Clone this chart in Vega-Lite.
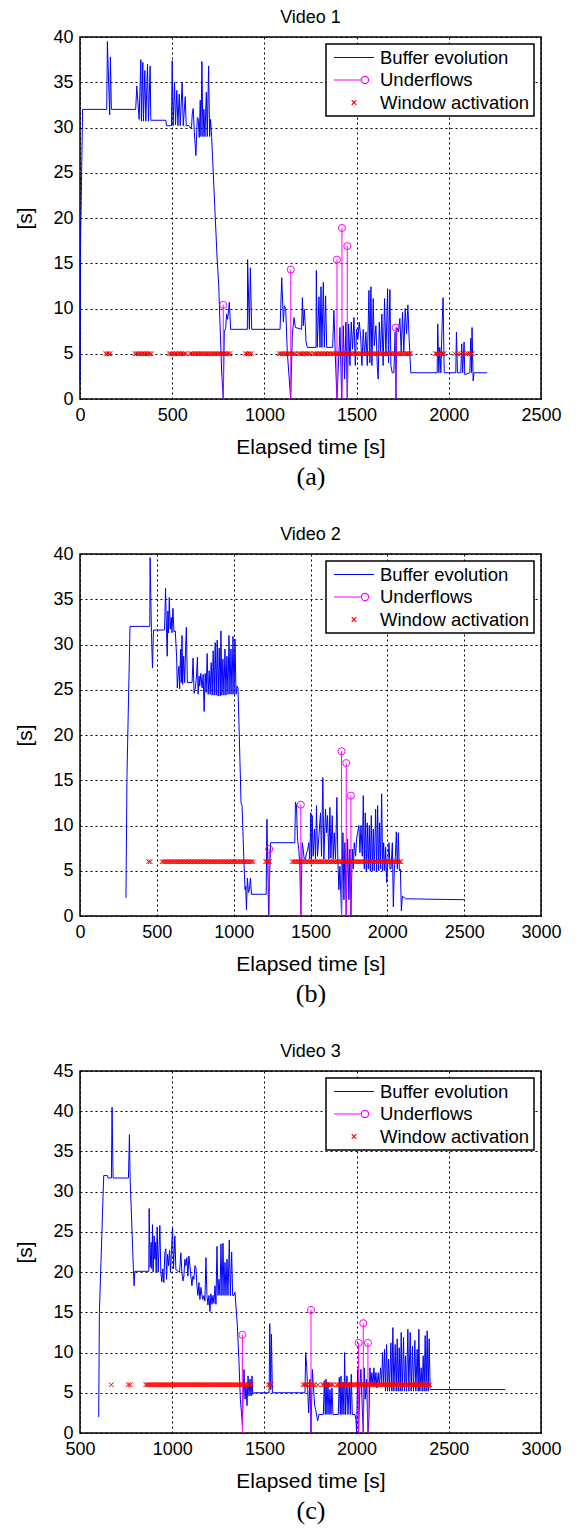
{
"$schema":"https://vega.github.io/schema/vega-lite/v6.json",
"padding":{"left":14,"top":8,"right":5,"bottom":5},
"background":"white",
"config":{
 "font":"Liberation Sans",
 "view":{"stroke":"black","strokeWidth":1.5},
 "axis":{"labelFontSize":18,"labelColor":"black","labelFont":"Liberation Sans","titleFont":"Liberation Sans","titleFontSize":21,"titleFontWeight":"normal","titleColor":"black","gridColor":"black","gridDash":[2,3],"gridWidth":1,"gridOpacity":1,"ticks":false,"domain":false,"labelPadding":7,"labelFlush":false,"labelOverlap":false,"labelBound":false,"format":"d"},
 "axisX":{"titlePadding":12},
 "axisY":{"titlePadding":17},
 "title":{"font":"Liberation Sans","fontSize":18,"fontWeight":"normal","color":"black","offset":1,"frame":"group"},
 "legend":{"orient":"top-right","offset":7,"strokeColor":"black","strokeWidth":1.5,"fillColor":"white","padding":4,"symbolSize":1600,"symbolStrokeWidth":1.2,"symbolOffset":3,"labelOffset":5,"labelFont":"Liberation Sans","labelFontSize":18.5,"labelColor":"black","labelLimit":0,"clipHeight":19,"rowPadding":3.5}
},
"datasets":{
"b1":[{"t":0,"v":2},{"t":3,"v":17},{"t":14,"v":32},{"t":145,"v":32},{"t":148.5,"v":39.5},{"t":161,"v":31.4},{"t":165,"v":37.8},{"t":170,"v":32},{"t":302,"v":32},{"t":308,"v":34.6},{"t":320.6,"v":30.9},{"t":330,"v":37.5},{"t":333,"v":30.7},{"t":340.6,"v":37.2},{"t":344,"v":30.7},{"t":351.5,"v":36.3},{"t":357,"v":30.7},{"t":366,"v":37},{"t":371.4,"v":30.7},{"t":380.4,"v":36.8},{"t":384,"v":30.8},{"t":465.6,"v":30.8},{"t":469,"v":30.2},{"t":496,"v":30.2},{"t":500,"v":37.4},{"t":505,"v":30.2},{"t":512.7,"v":35},{"t":518,"v":30.3},{"t":525,"v":34.1},{"t":531,"v":30.2},{"t":538,"v":33.7},{"t":543.5,"v":30.2},{"t":554,"v":35},{"t":560,"v":30.2},{"t":570.7,"v":33.4},{"t":576,"v":30.2},{"t":590.6,"v":30.2},{"t":596,"v":30},{"t":605,"v":30},{"t":608.7,"v":31.5},{"t":614,"v":32.1},{"t":619.6,"v":29.6},{"t":628.6,"v":26.9},{"t":636,"v":31.1},{"t":641,"v":31},{"t":646.7,"v":28.9},{"t":652,"v":33},{"t":656,"v":29},{"t":661,"v":37.3},{"t":666.7,"v":29},{"t":672,"v":32},{"t":677.5,"v":29},{"t":685,"v":33.9},{"t":690,"v":29},{"t":697.5,"v":36.8},{"t":703,"v":29},{"t":708,"v":30.9},{"t":714,"v":28.9},{"t":743,"v":15.8},{"t":752,"v":12.7},{"t":768,"v":3.1},{"t":777,"v":0},{"t":782.6,"v":7.4},{"t":790,"v":7.8},{"t":795,"v":9.4},{"t":800.7,"v":8.8},{"t":810,"v":10.7},{"t":817,"v":7.7},{"t":907.6,"v":7.7},{"t":909,"v":15.4},{"t":918.5,"v":7.7},{"t":924,"v":14.5},{"t":931,"v":7.7},{"t":1085,"v":7.7},{"t":1094,"v":13.4},{"t":1103,"v":8.5},{"t":1108,"v":10.3},{"t":1115.5,"v":10},{"t":1124,"v":5.2},{"t":1142.6,"v":0},{"t":1151.6,"v":7.2},{"t":1160.7,"v":9},{"t":1168,"v":7.9},{"t":1202,"v":7.7},{"t":1206,"v":11.2},{"t":1211,"v":8.1},{"t":1216,"v":9.9},{"t":1222,"v":8.1},{"t":1225.6,"v":6.3},{"t":1233,"v":5.7},{"t":1280,"v":5.7},{"t":1281.6,"v":14.2},{"t":1287,"v":5.7},{"t":1296,"v":11.3},{"t":1301.4,"v":5.7},{"t":1307,"v":12.4},{"t":1312,"v":5.7},{"t":1319.5,"v":12.9},{"t":1325,"v":5.7},{"t":1332,"v":11.4},{"t":1337.6,"v":5.7},{"t":1370,"v":5.7},{"t":1377,"v":9.8},{"t":1384.5,"v":4.8},{"t":1393.5,"v":0},{"t":1410,"v":7.9},{"t":1419,"v":0},{"t":1428,"v":8.1},{"t":1435,"v":2.2},{"t":1442,"v":8.5},{"t":1449.5,"v":0},{"t":1456.7,"v":8.3},{"t":1464,"v":3.7},{"t":1471,"v":8.5},{"t":1478,"v":5.5},{"t":1485.6,"v":9},{"t":1493,"v":3.7},{"t":1500,"v":7.7},{"t":1507,"v":6.6},{"t":1514,"v":8.5},{"t":1521.7,"v":7},{"t":1529,"v":3.7},{"t":1536,"v":7.7},{"t":1543,"v":4.8},{"t":1550.5,"v":7.4},{"t":1558,"v":3.7},{"t":1567,"v":12},{"t":1572,"v":4},{"t":1577.6,"v":12.4},{"t":1583,"v":3.7},{"t":1590,"v":11.1},{"t":1595.7,"v":5.9},{"t":1604.7,"v":8.1},{"t":1612,"v":3.7},{"t":1617,"v":2.2},{"t":1623,"v":8.5},{"t":1630,"v":5.2},{"t":1637,"v":9.4},{"t":1644,"v":3.7},{"t":1651.6,"v":11.1},{"t":1659,"v":4.8},{"t":1668,"v":12.2},{"t":1673,"v":4},{"t":1680.5,"v":12.1},{"t":1686,"v":3.7},{"t":1693,"v":2.9},{"t":1702,"v":2.9},{"t":1709,"v":7.4},{"t":1713,"v":0},{"t":1718,"v":7.9},{"t":1727,"v":7.4},{"t":1734.6,"v":8.9},{"t":1742,"v":5.2},{"t":1749,"v":9.6},{"t":1756,"v":5.2},{"t":1763.5,"v":10},{"t":1771,"v":7.2},{"t":1778,"v":10.4},{"t":1785,"v":6.6},{"t":1794,"v":2.9},{"t":1937,"v":2.9},{"t":1940,"v":8.3},{"t":1946,"v":2.9},{"t":1951,"v":5.7},{"t":1957,"v":2.9},{"t":1964,"v":8.5},{"t":1969,"v":11.2},{"t":1975,"v":2.9},{"t":2038,"v":2.9},{"t":2041.5,"v":7.4},{"t":2047,"v":2.9},{"t":2065,"v":2.9},{"t":2070,"v":6.1},{"t":2075,"v":2.9},{"t":2083,"v":6.3},{"t":2086.6,"v":2.7},{"t":2114,"v":2.9},{"t":2119,"v":6.7},{"t":2123,"v":2.9},{"t":2126,"v":7.9},{"t":2132,"v":2},{"t":2137,"v":2.9},{"t":2208,"v":2.9}],
"u1":[{"t":777,"v":10.4},{"t":1143,"v":14.3},{"t":1393.5,"v":15.4},{"t":1420.6,"v":18.9},{"t":1449.5,"v":16.9},{"t":1713,"v":7.9}],
"w1":[{"t":140,"v":5},{"t":148,"v":5},{"t":156,"v":5},{"t":163,"v":5},{"t":298,"v":5},{"t":306,"v":5},{"t":314,"v":5},{"t":322,"v":5},{"t":330,"v":5},{"t":338,"v":5},{"t":346,"v":5},{"t":354,"v":5},{"t":362,"v":5},{"t":370,"v":5},{"t":378,"v":5},{"t":385,"v":5},{"t":485,"v":5},{"t":493,"v":5},{"t":501,"v":5},{"t":509,"v":5},{"t":517,"v":5},{"t":525,"v":5},{"t":533,"v":5},{"t":541,"v":5},{"t":549,"v":5},{"t":557,"v":5},{"t":565,"v":5},{"t":573,"v":5},{"t":598,"v":5},{"t":606,"v":5},{"t":614,"v":5},{"t":622,"v":5},{"t":630,"v":5},{"t":638,"v":5},{"t":646,"v":5},{"t":654,"v":5},{"t":662,"v":5},{"t":670,"v":5},{"t":678,"v":5},{"t":686,"v":5},{"t":694,"v":5},{"t":702,"v":5},{"t":710,"v":5},{"t":718,"v":5},{"t":726,"v":5},{"t":734,"v":5},{"t":742,"v":5},{"t":750,"v":5},{"t":758,"v":5},{"t":766,"v":5},{"t":774,"v":5},{"t":782,"v":5},{"t":790,"v":5},{"t":798,"v":5},{"t":806,"v":5},{"t":813,"v":5},{"t":897,"v":5},{"t":905,"v":5},{"t":913,"v":5},{"t":921,"v":5},{"t":929,"v":5},{"t":1080,"v":5},{"t":1088,"v":5},{"t":1096,"v":5},{"t":1104,"v":5},{"t":1112,"v":5},{"t":1120,"v":5},{"t":1128,"v":5},{"t":1136,"v":5},{"t":1144,"v":5},{"t":1152,"v":5},{"t":1160,"v":5},{"t":1167,"v":5},{"t":1185,"v":5},{"t":1193,"v":5},{"t":1201,"v":5},{"t":1209,"v":5},{"t":1217,"v":5},{"t":1225,"v":5},{"t":1233,"v":5},{"t":1241,"v":5},{"t":1248,"v":5},{"t":1266,"v":5},{"t":1274,"v":5},{"t":1282,"v":5},{"t":1290,"v":5},{"t":1298,"v":5},{"t":1306,"v":5},{"t":1314,"v":5},{"t":1322,"v":5},{"t":1330,"v":5},{"t":1338,"v":5},{"t":1346,"v":5},{"t":1354,"v":5},{"t":1362,"v":5},{"t":1370,"v":5},{"t":1378,"v":5},{"t":1386,"v":5},{"t":1394,"v":5},{"t":1402,"v":5},{"t":1410,"v":5},{"t":1418,"v":5},{"t":1426,"v":5},{"t":1434,"v":5},{"t":1442,"v":5},{"t":1450,"v":5},{"t":1458,"v":5},{"t":1466,"v":5},{"t":1474,"v":5},{"t":1482,"v":5},{"t":1490,"v":5},{"t":1498,"v":5},{"t":1506,"v":5},{"t":1514,"v":5},{"t":1522,"v":5},{"t":1530,"v":5},{"t":1538,"v":5},{"t":1546,"v":5},{"t":1554,"v":5},{"t":1562,"v":5},{"t":1570,"v":5},{"t":1578,"v":5},{"t":1586,"v":5},{"t":1594,"v":5},{"t":1602,"v":5},{"t":1610,"v":5},{"t":1618,"v":5},{"t":1626,"v":5},{"t":1634,"v":5},{"t":1642,"v":5},{"t":1650,"v":5},{"t":1658,"v":5},{"t":1666,"v":5},{"t":1674,"v":5},{"t":1682,"v":5},{"t":1690,"v":5},{"t":1698,"v":5},{"t":1706,"v":5},{"t":1714,"v":5},{"t":1722,"v":5},{"t":1730,"v":5},{"t":1738,"v":5},{"t":1746,"v":5},{"t":1754,"v":5},{"t":1762,"v":5},{"t":1770,"v":5},{"t":1778,"v":5},{"t":1786,"v":5},{"t":1792,"v":5},{"t":1927,"v":5},{"t":1935,"v":5},{"t":1943,"v":5},{"t":1951,"v":5},{"t":1959,"v":5},{"t":1967,"v":5},{"t":1975,"v":5},{"t":2032,"v":5},{"t":2048,"v":5},{"t":2062,"v":5},{"t":2078,"v":5},{"t":2092,"v":5},{"t":2104,"v":5},{"t":2113,"v":5},{"t":2121,"v":5},{"t":2128,"v":5}],
"b2":[{"t":299,"v":2},{"t":305.7,"v":15.5},{"t":325.3,"v":32},{"t":454.1,"v":32},{"t":456.3,"v":39.6},{"t":465,"v":31.3},{"t":471.6,"v":27.4},{"t":478.2,"v":31.6},{"t":550.2,"v":31.6},{"t":556.8,"v":36.2},{"t":563.3,"v":31.3},{"t":567.7,"v":28.7},{"t":572,"v":33.7},{"t":576.4,"v":31.3},{"t":580.8,"v":35.2},{"t":587.3,"v":31.7},{"t":593.9,"v":33},{"t":598.3,"v":31.3},{"t":604.8,"v":34},{"t":611.4,"v":31.4},{"t":620.1,"v":31.5},{"t":628.8,"v":28.6},{"t":633.2,"v":25.2},{"t":637.6,"v":26.4},{"t":644.1,"v":27.6},{"t":648.5,"v":25.1},{"t":655,"v":29.5},{"t":659.4,"v":25.8},{"t":663.8,"v":31},{"t":668.1,"v":25.6},{"t":674.7,"v":28.7},{"t":681.2,"v":25.8},{"t":687.8,"v":29.9},{"t":692.1,"v":31.9},{"t":698.7,"v":25.8},{"t":729.3,"v":25.8},{"t":735.8,"v":28.5},{"t":742.4,"v":24.6},{"t":751.1,"v":25.2},{"t":757.6,"v":26.4},{"t":764.2,"v":28.6},{"t":768.6,"v":24.5},{"t":775.1,"v":26.5},{"t":779.5,"v":25.4},{"t":786,"v":26.8},{"t":794.8,"v":25.2},{"t":801.3,"v":26.7},{"t":807.9,"v":22.6},{"t":814.4,"v":26.8},{"t":821,"v":24.7},{"t":827.5,"v":29},{"t":834.1,"v":24.5},{"t":840.6,"v":27.1},{"t":847.2,"v":24.5},{"t":853.7,"v":28},{"t":860.3,"v":24.4},{"t":866.8,"v":29.3},{"t":873.4,"v":24.4},{"t":879.9,"v":30.2},{"t":886.5,"v":24.4},{"t":893,"v":30.5},{"t":899.6,"v":24.3},{"t":906.1,"v":29.6},{"t":912.7,"v":24.3},{"t":917,"v":31.5},{"t":923.6,"v":24.4},{"t":930.1,"v":28.4},{"t":936.7,"v":24.4},{"t":943.2,"v":29.5},{"t":949.8,"v":24.4},{"t":956.3,"v":28.7},{"t":962.9,"v":24.5},{"t":969.4,"v":31},{"t":976,"v":24.5},{"t":982.5,"v":29.5},{"t":989.1,"v":24.5},{"t":995.6,"v":30.9},{"t":1002.2,"v":24.5},{"t":1008.7,"v":30.6},{"t":1015.3,"v":24.5},{"t":1021.8,"v":25.4},{"t":1028.4,"v":25.2},{"t":1048,"v":12.5},{"t":1054.6,"v":12.2},{"t":1065.5,"v":6.6},{"t":1074.2,"v":2.9},{"t":1078.6,"v":3.3},{"t":1083,"v":0.7},{"t":1089.5,"v":4.2},{"t":1096.1,"v":2.6},{"t":1102.6,"v":2.9},{"t":1109.2,"v":4.2},{"t":1115.7,"v":2.4},{"t":1211.8,"v":2.4},{"t":1216.2,"v":10.7},{"t":1222.7,"v":5.5},{"t":1227.1,"v":0},{"t":1240.2,"v":8.1},{"t":1397.8,"v":8.1},{"t":1402.2,"v":12.6},{"t":1408.7,"v":12.2},{"t":1415.2,"v":8.5},{"t":1423.9,"v":7.4},{"t":1430.4,"v":5.5},{"t":1437,"v":0},{"t":1445.7,"v":8.1},{"t":1452.2,"v":7.4},{"t":1458.7,"v":6.3},{"t":1467.4,"v":6.3},{"t":1473.9,"v":7},{"t":1480.4,"v":7.2},{"t":1489.1,"v":8.1},{"t":1495.7,"v":6.3},{"t":1502.2,"v":11.4},{"t":1506.5,"v":6.3},{"t":1510.9,"v":11.1},{"t":1517.4,"v":6.6},{"t":1526.1,"v":9.6},{"t":1532.6,"v":6.3},{"t":1539.1,"v":12.2},{"t":1545.7,"v":6.6},{"t":1554.3,"v":8.8},{"t":1565.2,"v":11.4},{"t":1571.7,"v":6.6},{"t":1580.4,"v":15.3},{"t":1587,"v":6.3},{"t":1597.8,"v":11.8},{"t":1604.3,"v":9.2},{"t":1610.9,"v":11.1},{"t":1619.6,"v":6.3},{"t":1626.1,"v":12},{"t":1632.6,"v":6.4},{"t":1641.3,"v":11.1},{"t":1647.8,"v":6.3},{"t":1654.3,"v":9.2},{"t":1663,"v":6.3},{"t":1671.7,"v":13.1},{"t":1678.3,"v":6.1},{"t":1684.8,"v":2.9},{"t":1691.3,"v":5.5},{"t":1702.2,"v":0},{"t":1710.9,"v":9.2},{"t":1717.4,"v":1.8},{"t":1723.9,"v":8.1},{"t":1732.6,"v":0},{"t":1741.3,"v":8.5},{"t":1750,"v":1.8},{"t":1756.5,"v":7.4},{"t":1763,"v":0},{"t":1771.7,"v":7.4},{"t":1778.3,"v":5.2},{"t":1784.8,"v":8.1},{"t":1793.5,"v":6.6},{"t":1800,"v":8.5},{"t":1806.5,"v":9.2},{"t":1815.2,"v":10},{"t":1821.7,"v":7},{"t":1828.3,"v":10},{"t":1837,"v":6.6},{"t":1843.5,"v":13.3},{"t":1850,"v":5.2},{"t":1856.5,"v":11.4},{"t":1863,"v":5},{"t":1869.6,"v":10.3},{"t":1876.1,"v":5.2},{"t":1882.6,"v":10},{"t":1889.1,"v":5},{"t":1895.7,"v":11.1},{"t":1902.2,"v":5},{"t":1908.7,"v":9.6},{"t":1915.2,"v":5},{"t":1923.9,"v":11.8},{"t":1930.4,"v":5},{"t":1937,"v":12.2},{"t":1943.5,"v":5},{"t":1950,"v":10.3},{"t":1956.5,"v":5.2},{"t":1963,"v":13.5},{"t":1969.6,"v":5},{"t":1976.1,"v":8.1},{"t":1982.6,"v":5},{"t":1989.1,"v":7.6},{"t":1995.7,"v":3.7},{"t":2002.2,"v":5.5},{"t":2010.9,"v":8.1},{"t":2017.4,"v":5.2},{"t":2023.9,"v":5.2},{"t":2032.6,"v":8.1},{"t":2039.1,"v":1},{"t":2045.7,"v":5.2},{"t":2052.2,"v":6.6},{"t":2058.7,"v":9.3},{"t":2065.2,"v":5.2},{"t":2071.7,"v":9.2},{"t":2078.3,"v":5},{"t":2084.8,"v":5.2},{"t":2091.3,"v":0.55},{"t":2097.8,"v":2.2},{"t":2119.6,"v":1.9},{"t":2502,"v":1.8}],
"u2":[{"t":1231,"v":7.4},{"t":1437,"v":12.3},{"t":1702.2,"v":18.2},{"t":1732.6,"v":16.9},{"t":1763,"v":13.3}],
"w2":[{"t":447,"v":6},{"t":457,"v":6},{"t":535,"v":6},{"t":545,"v":6},{"t":555,"v":6},{"t":565,"v":6},{"t":575,"v":6},{"t":585,"v":6},{"t":595,"v":6},{"t":605,"v":6},{"t":615,"v":6},{"t":625,"v":6},{"t":635,"v":6},{"t":645,"v":6},{"t":655,"v":6},{"t":665,"v":6},{"t":675,"v":6},{"t":685,"v":6},{"t":695,"v":6},{"t":705,"v":6},{"t":715,"v":6},{"t":725,"v":6},{"t":735,"v":6},{"t":745,"v":6},{"t":755,"v":6},{"t":765,"v":6},{"t":775,"v":6},{"t":785,"v":6},{"t":795,"v":6},{"t":805,"v":6},{"t":815,"v":6},{"t":825,"v":6},{"t":835,"v":6},{"t":845,"v":6},{"t":855,"v":6},{"t":865,"v":6},{"t":875,"v":6},{"t":885,"v":6},{"t":895,"v":6},{"t":905,"v":6},{"t":915,"v":6},{"t":925,"v":6},{"t":935,"v":6},{"t":945,"v":6},{"t":955,"v":6},{"t":965,"v":6},{"t":975,"v":6},{"t":985,"v":6},{"t":995,"v":6},{"t":1005,"v":6},{"t":1015,"v":6},{"t":1025,"v":6},{"t":1035,"v":6},{"t":1045,"v":6},{"t":1055,"v":6},{"t":1065,"v":6},{"t":1075,"v":6},{"t":1085,"v":6},{"t":1095,"v":6},{"t":1105,"v":6},{"t":1115,"v":6},{"t":1125,"v":6},{"t":1208,"v":6},{"t":1216,"v":6},{"t":1224,"v":6},{"t":1232,"v":6},{"t":1382,"v":6},{"t":1392,"v":6},{"t":1402,"v":6},{"t":1412,"v":6},{"t":1422,"v":6},{"t":1432,"v":6},{"t":1442,"v":6},{"t":1452,"v":6},{"t":1462,"v":6},{"t":1472,"v":6},{"t":1482,"v":6},{"t":1492,"v":6},{"t":1502,"v":6},{"t":1512,"v":6},{"t":1522,"v":6},{"t":1532,"v":6},{"t":1542,"v":6},{"t":1552,"v":6},{"t":1562,"v":6},{"t":1572,"v":6},{"t":1582,"v":6},{"t":1592,"v":6},{"t":1602,"v":6},{"t":1612,"v":6},{"t":1622,"v":6},{"t":1632,"v":6},{"t":1642,"v":6},{"t":1652,"v":6},{"t":1662,"v":6},{"t":1672,"v":6},{"t":1682,"v":6},{"t":1692,"v":6},{"t":1702,"v":6},{"t":1712,"v":6},{"t":1722,"v":6},{"t":1732,"v":6},{"t":1742,"v":6},{"t":1752,"v":6},{"t":1762,"v":6},{"t":1772,"v":6},{"t":1782,"v":6},{"t":1792,"v":6},{"t":1802,"v":6},{"t":1812,"v":6},{"t":1822,"v":6},{"t":1832,"v":6},{"t":1842,"v":6},{"t":1852,"v":6},{"t":1862,"v":6},{"t":1872,"v":6},{"t":1882,"v":6},{"t":1892,"v":6},{"t":1902,"v":6},{"t":1912,"v":6},{"t":1922,"v":6},{"t":1932,"v":6},{"t":1942,"v":6},{"t":1952,"v":6},{"t":1962,"v":6},{"t":1972,"v":6},{"t":1982,"v":6},{"t":1992,"v":6},{"t":2002,"v":6},{"t":2012,"v":6},{"t":2022,"v":6},{"t":2032,"v":6},{"t":2042,"v":6},{"t":2052,"v":6},{"t":2062,"v":6},{"t":2072,"v":6},{"t":2082,"v":6},{"t":2088,"v":6}],
"b3":[{"t":601.4,"v":2},{"t":605.1,"v":15},{"t":628.6,"v":32},{"t":648.5,"v":32},{"t":652.2,"v":31.7},{"t":670.3,"v":31.7},{"t":673.9,"v":40.5},{"t":679.3,"v":31.7},{"t":762.7,"v":31.7},{"t":768.1,"v":37.1},{"t":771.7,"v":31.7},{"t":789.9,"v":20.2},{"t":793.4,"v":18.3},{"t":797.1,"v":20.1},{"t":873.2,"v":20.1},{"t":875,"v":27.9},{"t":880.4,"v":20.6},{"t":885.9,"v":23.7},{"t":889.5,"v":20.4},{"t":893.1,"v":25.9},{"t":896.7,"v":20},{"t":902.2,"v":24.5},{"t":905.8,"v":21.6},{"t":909.4,"v":23.7},{"t":913,"v":20},{"t":918.5,"v":25.6},{"t":923.9,"v":20},{"t":933,"v":25.8},{"t":938.4,"v":20},{"t":943.8,"v":18.8},{"t":949.3,"v":20.4},{"t":954.7,"v":18.7},{"t":960.1,"v":22.4},{"t":965.6,"v":22.9},{"t":969.2,"v":19.1},{"t":974.6,"v":22.2},{"t":980.1,"v":20.8},{"t":985.5,"v":22.7},{"t":990.9,"v":20},{"t":996.4,"v":22.9},{"t":1001.8,"v":25.6},{"t":1007.2,"v":20.4},{"t":1014.5,"v":24.5},{"t":1019.9,"v":20.3},{"t":1039.9,"v":20},{"t":1047.1,"v":22.4},{"t":1052.5,"v":20},{"t":1058,"v":18.9},{"t":1063.4,"v":19.5},{"t":1068.8,"v":21.6},{"t":1074.3,"v":20.8},{"t":1079.7,"v":21.8},{"t":1085.1,"v":19.5},{"t":1090.6,"v":22},{"t":1096,"v":20.8},{"t":1101.4,"v":19.5},{"t":1106.9,"v":18.3},{"t":1112.3,"v":19.5},{"t":1117.7,"v":19.1},{"t":1123.2,"v":20.8},{"t":1128.6,"v":20.6},{"t":1134.1,"v":18.3},{"t":1139.5,"v":17.1},{"t":1144.9,"v":18.7},{"t":1150.4,"v":16.6},{"t":1155.8,"v":18.1},{"t":1161.2,"v":17.1},{"t":1166.7,"v":16.6},{"t":1172.1,"v":17.1},{"t":1177.5,"v":16.4},{"t":1183,"v":21.8},{"t":1188.4,"v":17.1},{"t":1193.8,"v":15.9},{"t":1199.3,"v":17.1},{"t":1204.7,"v":15.1},{"t":1210.1,"v":17.3},{"t":1215.6,"v":16},{"t":1221,"v":17.1},{"t":1226.4,"v":16.1},{"t":1231.9,"v":18.3},{"t":1237.3,"v":16},{"t":1242.7,"v":23.2},{"t":1248.2,"v":17.1},{"t":1253.6,"v":19.1},{"t":1259.1,"v":17.1},{"t":1264.5,"v":23.5},{"t":1269.9,"v":17.1},{"t":1275.4,"v":23.6},{"t":1280.8,"v":17.1},{"t":1286.2,"v":21.2},{"t":1291.7,"v":17.1},{"t":1297.1,"v":21.6},{"t":1302.5,"v":17.1},{"t":1309.8,"v":24},{"t":1315.2,"v":17.1},{"t":1322.5,"v":22.5},{"t":1327.9,"v":17.1},{"t":1335.1,"v":17.1},{"t":1340.6,"v":17.5},{"t":1353.3,"v":13.3},{"t":1362.3,"v":8.8},{"t":1369.6,"v":4.2},{"t":1378.6,"v":1.7},{"t":1380.4,"v":1},{"t":1384.1,"v":4.2},{"t":1389.5,"v":7.9},{"t":1395,"v":4.2},{"t":1400.4,"v":5.9},{"t":1405.8,"v":3.4},{"t":1411.3,"v":7.1},{"t":1416.7,"v":4.6},{"t":1422.1,"v":6.7},{"t":1427.5,"v":4.6},{"t":1433,"v":7.1},{"t":1436.6,"v":4.8},{"t":1442,"v":5},{"t":1525.4,"v":5},{"t":1529,"v":13.6},{"t":1534.4,"v":5.4},{"t":1538,"v":12.3},{"t":1543.5,"v":5},{"t":1720.2,"v":5},{"t":1723.8,"v":10},{"t":1729.3,"v":8.3},{"t":1734.7,"v":5.4},{"t":1740,"v":2.5},{"t":1747.3,"v":6.7},{"t":1752.7,"v":0},{"t":1760,"v":7.9},{"t":1765.4,"v":5.9},{"t":1772.6,"v":3.4},{"t":1778,"v":2.9},{"t":1788.8,"v":1.5},{"t":1796,"v":2.3},{"t":1819.5,"v":2.3},{"t":1825,"v":6.5},{"t":1830.3,"v":2.3},{"t":1834,"v":6.7},{"t":1839.4,"v":2.3},{"t":1844.8,"v":6.3},{"t":1850.2,"v":2.3},{"t":1855.6,"v":5.4},{"t":1861,"v":2.3},{"t":1866.4,"v":5.6},{"t":1871.8,"v":2.3},{"t":1900.7,"v":2.3},{"t":1906.1,"v":6.9},{"t":1911.6,"v":2.3},{"t":1915.2,"v":7.1},{"t":1920.6,"v":2.3},{"t":1926,"v":6.3},{"t":1931.4,"v":2.3},{"t":1935,"v":10},{"t":1940.4,"v":2.3},{"t":1947.7,"v":7.1},{"t":1953.1,"v":2.3},{"t":1960.3,"v":6.3},{"t":1965.7,"v":2.3},{"t":1971.1,"v":7.3},{"t":1976.5,"v":2.3},{"t":1991,"v":2.3},{"t":1996.4,"v":1.7},{"t":2000,"v":0},{"t":2005.4,"v":7.9},{"t":2010.8,"v":0},{"t":2018,"v":5.9},{"t":2023.5,"v":7.9},{"t":2028.9,"v":4.2},{"t":2036.1,"v":0},{"t":2041.5,"v":8.1},{"t":2046.9,"v":4.2},{"t":2054.2,"v":6.7},{"t":2061.4,"v":0},{"t":2066.8,"v":1.7},{"t":2072.2,"v":8.1},{"t":2077.6,"v":5.9},{"t":2083,"v":7.5},{"t":2088.4,"v":5.9},{"t":2093.9,"v":8.1},{"t":2099.3,"v":5.9},{"t":2104.7,"v":7.5},{"t":2110.1,"v":5.6},{"t":2117.3,"v":7.5},{"t":2122.7,"v":5.9},{"t":2130,"v":8.1},{"t":2135.4,"v":5.9},{"t":2140.8,"v":10},{"t":2146.2,"v":5.9},{"t":2151.6,"v":10.4},{"t":2157,"v":5.2},{"t":2162.5,"v":11},{"t":2167.9,"v":5.2},{"t":2173.3,"v":9.2},{"t":2178.7,"v":5.2},{"t":2185.9,"v":11.2},{"t":2191.3,"v":5.2},{"t":2196.7,"v":13.1},{"t":2202.2,"v":5.2},{"t":2209.4,"v":11},{"t":2214.8,"v":5.2},{"t":2220.2,"v":11.7},{"t":2225.6,"v":5.2},{"t":2231,"v":10.6},{"t":2236.5,"v":5.2},{"t":2241.9,"v":12.5},{"t":2247.3,"v":5.2},{"t":2254.5,"v":11.9},{"t":2259.9,"v":5.2},{"t":2265.3,"v":9.6},{"t":2270.8,"v":5.2},{"t":2278,"v":12.9},{"t":2283.4,"v":5.2},{"t":2290.6,"v":12.5},{"t":2296,"v":5.2},{"t":2303.2,"v":10.8},{"t":2308.7,"v":5.2},{"t":2315.9,"v":11.5},{"t":2321.3,"v":5.2},{"t":2328.5,"v":10.4},{"t":2333.9,"v":5.2},{"t":2337.5,"v":12.9},{"t":2343,"v":5.2},{"t":2350.2,"v":8.1},{"t":2355.6,"v":5.2},{"t":2361,"v":9.6},{"t":2366.4,"v":5.2},{"t":2371.8,"v":12.1},{"t":2377.2,"v":5.2},{"t":2382.7,"v":12.7},{"t":2388.1,"v":5.2},{"t":2393.5,"v":11.7},{"t":2398.9,"v":5.4},{"t":2806,"v":5.4}],
"u3":[{"t":1380.4,"v":12.2},{"t":1752.7,"v":15.3},{"t":2010.8,"v":11.2},{"t":2036.1,"v":13.65},{"t":2061.4,"v":11.2}],
"w3":[{"t":670,"v":6},{"t":762,"v":6},{"t":772,"v":6},{"t":856,"v":6},{"t":864,"v":6},{"t":872,"v":6},{"t":880,"v":6},{"t":888,"v":6},{"t":896,"v":6},{"t":904,"v":6},{"t":912,"v":6},{"t":920,"v":6},{"t":928,"v":6},{"t":936,"v":6},{"t":944,"v":6},{"t":952,"v":6},{"t":960,"v":6},{"t":968,"v":6},{"t":976,"v":6},{"t":984,"v":6},{"t":992,"v":6},{"t":1000,"v":6},{"t":1008,"v":6},{"t":1016,"v":6},{"t":1024,"v":6},{"t":1032,"v":6},{"t":1040,"v":6},{"t":1048,"v":6},{"t":1056,"v":6},{"t":1064,"v":6},{"t":1072,"v":6},{"t":1080,"v":6},{"t":1088,"v":6},{"t":1096,"v":6},{"t":1104,"v":6},{"t":1112,"v":6},{"t":1120,"v":6},{"t":1128,"v":6},{"t":1136,"v":6},{"t":1144,"v":6},{"t":1152,"v":6},{"t":1160,"v":6},{"t":1168,"v":6},{"t":1176,"v":6},{"t":1184,"v":6},{"t":1192,"v":6},{"t":1200,"v":6},{"t":1208,"v":6},{"t":1216,"v":6},{"t":1224,"v":6},{"t":1232,"v":6},{"t":1240,"v":6},{"t":1248,"v":6},{"t":1256,"v":6},{"t":1264,"v":6},{"t":1272,"v":6},{"t":1280,"v":6},{"t":1288,"v":6},{"t":1296,"v":6},{"t":1304,"v":6},{"t":1312,"v":6},{"t":1320,"v":6},{"t":1328,"v":6},{"t":1336,"v":6},{"t":1344,"v":6},{"t":1352,"v":6},{"t":1360,"v":6},{"t":1368,"v":6},{"t":1376,"v":6},{"t":1384,"v":6},{"t":1392,"v":6},{"t":1400,"v":6},{"t":1408,"v":6},{"t":1416,"v":6},{"t":1424,"v":6},{"t":1430,"v":6},{"t":1522,"v":6},{"t":1530,"v":6},{"t":1538,"v":6},{"t":1710,"v":6},{"t":1718,"v":6},{"t":1726,"v":6},{"t":1734,"v":6},{"t":1750,"v":6},{"t":1762,"v":6},{"t":1772,"v":6},{"t":1790,"v":6},{"t":1815,"v":6},{"t":1823,"v":6},{"t":1831,"v":6},{"t":1839,"v":6},{"t":1847,"v":6},{"t":1855,"v":6},{"t":1863,"v":6},{"t":1871,"v":6},{"t":1893,"v":6},{"t":1901,"v":6},{"t":1909,"v":6},{"t":1917,"v":6},{"t":1925,"v":6},{"t":1933,"v":6},{"t":1941,"v":6},{"t":1949,"v":6},{"t":1957,"v":6},{"t":1965,"v":6},{"t":1973,"v":6},{"t":1981,"v":6},{"t":1989,"v":6},{"t":1997,"v":6},{"t":2005,"v":6},{"t":2013,"v":6},{"t":2021,"v":6},{"t":2029,"v":6},{"t":2037,"v":6},{"t":2045,"v":6},{"t":2053,"v":6},{"t":2061,"v":6},{"t":2069,"v":6},{"t":2077,"v":6},{"t":2085,"v":6},{"t":2093,"v":6},{"t":2101,"v":6},{"t":2109,"v":6},{"t":2117,"v":6},{"t":2125,"v":6},{"t":2133,"v":6},{"t":2141,"v":6},{"t":2149,"v":6},{"t":2157,"v":6},{"t":2165,"v":6},{"t":2173,"v":6},{"t":2181,"v":6},{"t":2189,"v":6},{"t":2197,"v":6},{"t":2205,"v":6},{"t":2213,"v":6},{"t":2221,"v":6},{"t":2229,"v":6},{"t":2237,"v":6},{"t":2245,"v":6},{"t":2253,"v":6},{"t":2261,"v":6},{"t":2269,"v":6},{"t":2277,"v":6},{"t":2285,"v":6},{"t":2293,"v":6},{"t":2301,"v":6},{"t":2309,"v":6},{"t":2317,"v":6},{"t":2325,"v":6},{"t":2333,"v":6},{"t":2341,"v":6},{"t":2349,"v":6},{"t":2357,"v":6},{"t":2365,"v":6},{"t":2373,"v":6},{"t":2381,"v":6},{"t":2389,"v":6},{"t":2397,"v":6}]
},
"spacing":35,
"resolve":{"scale":{"x":"independent","y":"independent","color":"independent","shape":"independent"}},
"vconcat":[
{"title":{"text":"Video 1"},"width":461,"height":362,
 "resolve":{"axis":{"x":"independent"}},
 "layer":[
  {"data":{"name":"b1"},"mark":{"type":"line","color":"#0000ff","strokeWidth":1},
   "encoding":{"x":{"field":"t","type":"quantitative","scale":{"domain":[0,2500],"nice":false},"axis":{"title":"Elapsed time [s]","values":[0,500,1000,1500,2000,2500],"grid":true}},
    "y":{"field":"v","type":"quantitative","scale":{"domain":[0,40],"nice":false},"axis":{"title":"[s]","values":[0,5,10,15,20,25,30,35,40],"grid":true}}}},
  {"data":{"name":"u1"},"mark":{"type":"rule","color":"#ff00ff","strokeWidth":1},
   "encoding":{"x":{"field":"t","type":"quantitative","axis":{"title":"(a)","orient":"bottom","labels":false,"grid":false,"domain":false,"ticks":false,"offset":64,"titlePadding":0,"titleFont":"Liberation Serif","titleFontSize":26}},
    "y":{"field":"v","type":"quantitative"},"y2":{"datum":0}}},
  {"data":{"name":"u1"},"mark":{"type":"point","shape":"circle","size":50,"filled":false,"color":"#ff00ff","strokeWidth":1,"opacity":1},
   "encoding":{"x":{"field":"t","type":"quantitative","axis":null},"y":{"field":"v","type":"quantitative"}}},
  {"data":{"name":"w1"},"mark":{"type":"point","filled":false,"size":1600,"strokeWidth":1,"opacity":1},
   "encoding":{"x":{"field":"t","type":"quantitative","axis":null},"y":{"field":"v","type":"quantitative"},
    "color":{"datum":"Window activation","type":"nominal","scale":{"domain":["Buffer evolution","Underflows","Window activation"],"range":["#0000ff","#ff00ff","#ff0000"]},"legend":{"title":null}},
    "shape":{"datum":"Window activation","type":"nominal","scale":{"domain":["Buffer evolution","Underflows","Window activation"],"range":["M-1,0L1,0","M-1,0L0.37,0M0.73,0A0.18,0.18,0,1,1,0.37,0A0.18,0.18,0,1,1,0.73,0","M-0.115,-0.115L0.115,0.115M-0.115,0.115L0.115,-0.115"]},"legend":{"title":null}}}}
 ]},
{"title":{"text":"Video 2"},"width":461,"height":362,
 "resolve":{"axis":{"x":"independent"}},
 "layer":[
  {"data":{"name":"b2"},"mark":{"type":"line","color":"#0000ff","strokeWidth":1},
   "encoding":{"x":{"field":"t","type":"quantitative","scale":{"domain":[0,3000],"nice":false},"axis":{"title":"Elapsed time [s]","values":[0,500,1000,1500,2000,2500,3000],"grid":true}},
    "y":{"field":"v","type":"quantitative","scale":{"domain":[0,40],"nice":false},"axis":{"title":"[s]","values":[0,5,10,15,20,25,30,35,40],"grid":true}}}},
  {"data":{"name":"u2"},"mark":{"type":"rule","color":"#ff00ff","strokeWidth":1},
   "encoding":{"x":{"field":"t","type":"quantitative","axis":{"title":"(b)","orient":"bottom","labels":false,"grid":false,"domain":false,"ticks":false,"offset":64,"titlePadding":0,"titleFont":"Liberation Serif","titleFontSize":26}},
    "y":{"field":"v","type":"quantitative"},"y2":{"datum":0}}},
  {"data":{"name":"u2"},"mark":{"type":"point","shape":"circle","size":50,"filled":false,"color":"#ff00ff","strokeWidth":1,"opacity":1},
   "encoding":{"x":{"field":"t","type":"quantitative","axis":null},"y":{"field":"v","type":"quantitative"}}},
  {"data":{"name":"w2"},"mark":{"type":"point","filled":false,"size":1600,"strokeWidth":1,"opacity":1},
   "encoding":{"x":{"field":"t","type":"quantitative","axis":null},"y":{"field":"v","type":"quantitative"},
    "color":{"datum":"Window activation","type":"nominal","scale":{"domain":["Buffer evolution","Underflows","Window activation"],"range":["#0000ff","#ff00ff","#ff0000"]},"legend":{"title":null}},
    "shape":{"datum":"Window activation","type":"nominal","scale":{"domain":["Buffer evolution","Underflows","Window activation"],"range":["M-1,0L1,0","M-1,0L0.37,0M0.73,0A0.18,0.18,0,1,1,0.37,0A0.18,0.18,0,1,1,0.73,0","M-0.115,-0.115L0.115,0.115M-0.115,0.115L0.115,-0.115"]},"legend":{"title":null}}}}
 ]},
{"title":{"text":"Video 3"},"width":461,"height":362,
 "resolve":{"axis":{"x":"independent"}},
 "layer":[
  {"data":{"name":"b3"},"mark":{"type":"line","color":"#0000ff","strokeWidth":1},
   "encoding":{"x":{"field":"t","type":"quantitative","scale":{"domain":[500,3000],"nice":false},"axis":{"title":"Elapsed time [s]","values":[500,1000,1500,2000,2500,3000],"grid":true}},
    "y":{"field":"v","type":"quantitative","scale":{"domain":[0,45],"nice":false},"axis":{"title":"[s]","values":[0,5,10,15,20,25,30,35,40,45],"grid":true}}}},
  {"data":{"name":"u3"},"mark":{"type":"rule","color":"#ff00ff","strokeWidth":1},
   "encoding":{"x":{"field":"t","type":"quantitative","axis":{"title":"(c)","orient":"bottom","labels":false,"grid":false,"domain":false,"ticks":false,"offset":64,"titlePadding":0,"titleFont":"Liberation Serif","titleFontSize":26}},
    "y":{"field":"v","type":"quantitative"},"y2":{"datum":0}}},
  {"data":{"name":"u3"},"mark":{"type":"point","shape":"circle","size":50,"filled":false,"color":"#ff00ff","strokeWidth":1,"opacity":1},
   "encoding":{"x":{"field":"t","type":"quantitative","axis":null},"y":{"field":"v","type":"quantitative"}}},
  {"data":{"name":"w3"},"mark":{"type":"point","filled":false,"size":1600,"strokeWidth":1,"opacity":1},
   "encoding":{"x":{"field":"t","type":"quantitative","axis":null},"y":{"field":"v","type":"quantitative"},
    "color":{"datum":"Window activation","type":"nominal","scale":{"domain":["Buffer evolution","Underflows","Window activation"],"range":["#0000ff","#ff00ff","#ff0000"]},"legend":{"title":null}},
    "shape":{"datum":"Window activation","type":"nominal","scale":{"domain":["Buffer evolution","Underflows","Window activation"],"range":["M-1,0L1,0","M-1,0L0.37,0M0.73,0A0.18,0.18,0,1,1,0.37,0A0.18,0.18,0,1,1,0.73,0","M-0.115,-0.115L0.115,0.115M-0.115,0.115L0.115,-0.115"]},"legend":{"title":null}}}}
 ]}
]
}
